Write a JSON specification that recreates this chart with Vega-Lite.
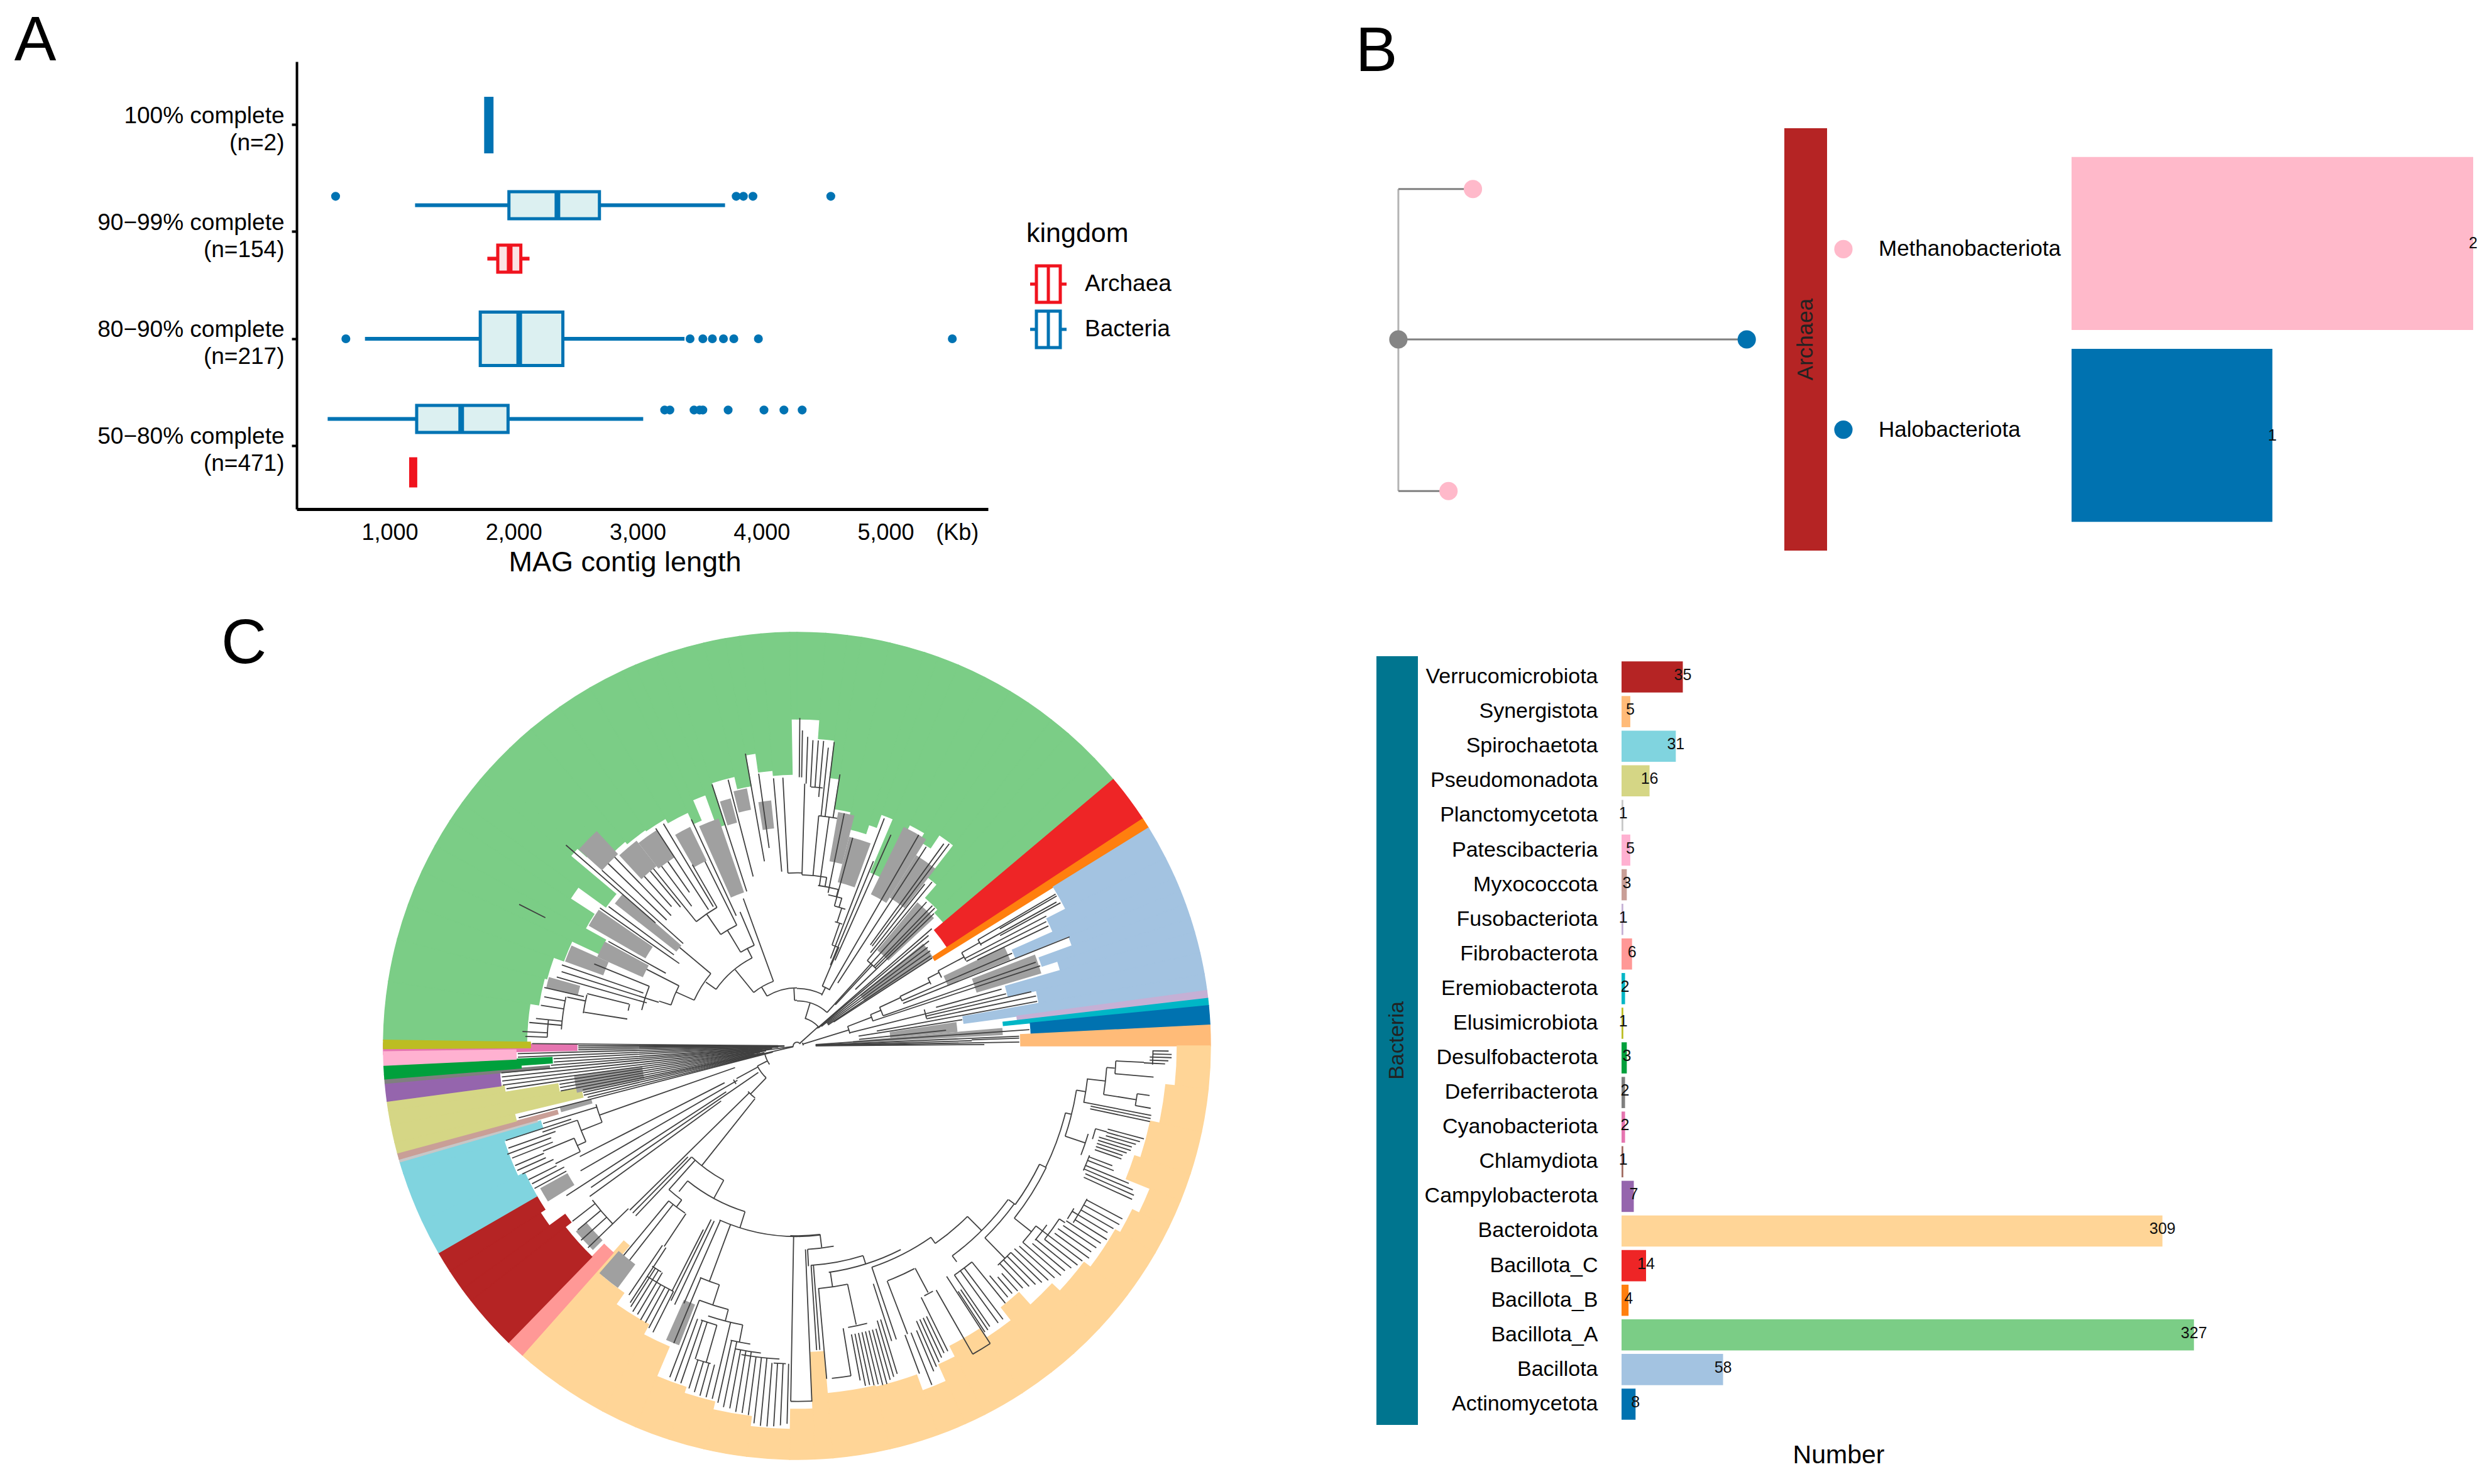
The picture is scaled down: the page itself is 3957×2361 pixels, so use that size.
{"$schema":"https://vega.github.io/schema/vega-lite/v6.json","width":3957,"height":2361,"autosize":{"type":"fit","contains":"padding"},"padding":0,"background":"white","config":{"view":{"stroke":null},"font":"Liberation Sans","axis":{"grid":false}},
"datasets":{
"boxes":[
{"group":"100% complete\n(n=2)","kingdom":"Bacteria","dodge":"center","span":"solo","low":1775,"q1":1775,"median":1800,"q3":1825,"high":1825},
{"group":"90−99% complete\n(n=154)","kingdom":"Bacteria","dodge":"upper","span":"paired","low":1205,"q1":1962,"median":2353,"q3":2692,"high":3705},
{"group":"90−99% complete\n(n=154)","kingdom":"Archaea","dodge":"lower","span":"paired","low":1788,"q1":1872,"median":1968,"q3":2058,"high":2128},
{"group":"80−90% complete\n(n=217)","kingdom":"Bacteria","dodge":"center","span":"solo","low":801,"q1":1731,"median":2045,"q3":2397,"high":3378},
{"group":"50−80% complete\n(n=471)","kingdom":"Bacteria","dodge":"upper","span":"paired","low":500,"q1":1218,"median":1577,"q3":1955,"high":3045},
{"group":"50−80% complete\n(n=471)","kingdom":"Archaea","dodge":"lower","span":"paired","low":1170,"q1":1170,"median":1190,"q3":1210,"high":1210}],
"outliers":[
{"group":"90−99% complete\n(n=154)","dodge":"upper","kb":564},{"group":"90−99% complete\n(n=154)","dodge":"upper","kb":3795},{"group":"90−99% complete\n(n=154)","dodge":"upper","kb":3853},{"group":"90−99% complete\n(n=154)","dodge":"upper","kb":3930},{"group":"90−99% complete\n(n=154)","dodge":"upper","kb":4558},
{"group":"80−90% complete\n(n=217)","dodge":"center","kb":647},{"group":"80−90% complete\n(n=217)","dodge":"center","kb":3423},{"group":"80−90% complete\n(n=217)","dodge":"center","kb":3526},{"group":"80−90% complete\n(n=217)","dodge":"center","kb":3603},{"group":"80−90% complete\n(n=217)","dodge":"center","kb":3692},{"group":"80−90% complete\n(n=217)","dodge":"center","kb":3776},{"group":"80−90% complete\n(n=217)","dodge":"center","kb":3974},{"group":"80−90% complete\n(n=217)","dodge":"center","kb":5538},
{"group":"50−80% complete\n(n=471)","dodge":"upper","kb":3218},{"group":"50−80% complete\n(n=471)","dodge":"upper","kb":3260},{"group":"50−80% complete\n(n=471)","dodge":"upper","kb":3455},{"group":"50−80% complete\n(n=471)","dodge":"upper","kb":3500},{"group":"50−80% complete\n(n=471)","dodge":"upper","kb":3526},{"group":"50−80% complete\n(n=471)","dodge":"upper","kb":3730},{"group":"50−80% complete\n(n=471)","dodge":"upper","kb":4019},{"group":"50−80% complete\n(n=471)","dodge":"upper","kb":4180},{"group":"50−80% complete\n(n=471)","dodge":"upper","kb":4327}],
"kingdoms":[{"kingdom":"Archaea"},{"kingdom":"Bacteria"}],
"archaea":[{"phylum":"Methanobacteriota","number":2},{"phylum":"Halobacteriota","number":1}],
"bacteria":[{"phylum":"Verrucomicrobiota","number":35},{"phylum":"Synergistota","number":5},{"phylum":"Spirochaetota","number":31},{"phylum":"Pseudomonadota","number":16},{"phylum":"Planctomycetota","number":1},{"phylum":"Patescibacteria","number":5},{"phylum":"Myxococcota","number":3},{"phylum":"Fusobacteriota","number":1},{"phylum":"Fibrobacterota","number":6},{"phylum":"Eremiobacterota","number":2},{"phylum":"Elusimicrobiota","number":1},{"phylum":"Desulfobacterota","number":3},{"phylum":"Deferribacterota","number":2},{"phylum":"Cyanobacteriota","number":2},{"phylum":"Chlamydiota","number":1},{"phylum":"Campylobacterota","number":7},{"phylum":"Bacteroidota","number":309},{"phylum":"Bacillota_C","number":14},{"phylum":"Bacillota_B","number":4},{"phylum":"Bacillota_A","number":327},{"phylum":"Bacillota","number":58},{"phylum":"Actinomycetota","number":8}],
"treeB":[{"node":"root","d":35,"p":337,"type":"internal"},{"node":"top","d":154,"p":97,"type":"Methanobacteriota"},{"node":"mid","d":591,"p":337,"type":"Halobacteriota"},{"node":"bottom","d":115,"p":579,"type":"Methanobacteriota"}],
"edgesB":[{"d":35,"d2":35,"p":97,"p2":579,"edge":"stem"},{"d":35,"d2":154,"p":97,"p2":97,"edge":"tip"},{"d":35,"d2":591,"p":337,"p2":337,"edge":"tip"},{"d":35,"d2":115,"p":579,"p2":579,"edge":"tip"}],
"wedges":[
{"phylum":"Bacillota_A","a0":270.8,"a1":279,"r0":430},{"phylum":"Bacillota_A","a0":279,"a1":285,"r0":416},{"phylum":"Bacillota_A","a0":285,"a1":290,"r0":412},{"phylum":"Bacillota_A","a0":290,"a1":295,"r0":395},{"phylum":"Bacillota_A","a0":295,"a1":299,"r0":348},{"phylum":"Bacillota_A","a0":299,"a1":303,"r0":385},{"phylum":"Bacillota_A","a0":303,"a1":306,"r0":430},{"phylum":"Bacillota_A","a0":306,"a1":310,"r0":376},{"phylum":"Bacillota_A","a0":310,"a1":312,"r0":470},{"phylum":"Bacillota_A","a0":312,"a1":316,"r0":450},{"phylum":"Bacillota_A","a0":316,"a1":320,"r0":425},{"phylum":"Bacillota_A","a0":320,"a1":325,"r0":420},{"phylum":"Bacillota_A","a0":325,"a1":330,"r0":418},{"phylum":"Bacillota_A","a0":330,"a1":335,"r0":410},{"phylum":"Bacillota_A","a0":335,"a1":337,"r0":390},{"phylum":"Bacillota_A","a0":337,"a1":340,"r0":425},{"phylum":"Bacillota_A","a0":340,"a1":342,"r0":370},{"phylum":"Bacillota_A","a0":342,"a1":347,"r0":440},{"phylum":"Bacillota_A","a0":347,"a1":350,"r0":420},{"phylum":"Bacillota_A","a0":350,"a1":352,"r0":470},{"phylum":"Bacillota_A","a0":352,"a1":355,"r0":440},{"phylum":"Bacillota_A","a0":355,"a1":359,"r0":432},{"phylum":"Bacillota_A","a0":359,"a1":360,"r0":520},{"phylum":"Bacillota_A","a0":0,"a1":4,"r0":520},{"phylum":"Bacillota_A","a0":4,"a1":7,"r0":490},{"phylum":"Bacillota_A","a0":7,"a1":9,"r0":430},{"phylum":"Bacillota_A","a0":9,"a1":13,"r0":382},{"phylum":"Bacillota_A","a0":13,"a1":18,"r0":355},{"phylum":"Bacillota_A","a0":18,"a1":20,"r0":370},{"phylum":"Bacillota_A","a0":20,"a1":23,"r0":392},{"phylum":"Bacillota_A","a0":23,"a1":27,"r0":300},{"phylum":"Bacillota_A","a0":27,"a1":31,"r0":395},{"phylum":"Bacillota_A","a0":31,"a1":34,"r0":380},{"phylum":"Bacillota_A","a0":34,"a1":38,"r0":405},{"phylum":"Bacillota_A","a0":38,"a1":41,"r0":340},{"phylum":"Bacillota_A","a0":41,"a1":46,"r0":312},{"phylum":"Bacillota_A","a0":46,"a1":49.9,"r0":305},
{"phylum":"Bacillota_C","a0":49.9,"a1":56.7,"r0":286},{"phylum":"Bacillota_B","a0":56.7,"a1":58.2,"r0":258},
{"phylum":"Bacillota","a0":58.2,"a1":63,"r0":480},{"phylum":"Bacillota","a0":63,"a1":66,"r0":446},{"phylum":"Bacillota","a0":66,"a1":68,"r0":375},{"phylum":"Bacillota","a0":68,"a1":70,"r0":466},{"phylum":"Bacillota","a0":70,"a1":72,"r0":410},{"phylum":"Bacillota","a0":72,"a1":74,"r0":436},{"phylum":"Bacillota","a0":74,"a1":77,"r0":345},{"phylum":"Bacillota","a0":77,"a1":80,"r0":391},{"phylum":"Bacillota","a0":80,"a1":82.3,"r0":268},
{"phylum":"Fusobacteriota","a0":82.3,"a1":83.4,"r0":353},{"phylum":"Eremiobacterota","a0":83.4,"a1":84.4,"r0":330},{"phylum":"Actinomycetota","a0":84.4,"a1":87.1,"r0":373},{"phylum":"Synergistota","a0":87.1,"a1":90,"r0":356},
{"phylum":"Bacteroidota","a0":90,"a1":96,"r0":605},{"phylum":"Bacteroidota","a0":96,"a1":102,"r0":590},{"phylum":"Bacteroidota","a0":102,"a1":108,"r0":575},{"phylum":"Bacteroidota","a0":108,"a1":112,"r0":565},{"phylum":"Bacteroidota","a0":112,"a1":116,"r0":606},{"phylum":"Bacteroidota","a0":116,"a1":120,"r0":594},{"phylum":"Bacteroidota","a0":120,"a1":127,"r0":585},{"phylum":"Bacteroidota","a0":127,"a1":133,"r0":572},{"phylum":"Bacteroidota","a0":133,"a1":138,"r0":555},{"phylum":"Bacteroidota","a0":138,"a1":142,"r0":528},{"phylum":"Bacteroidota","a0":142,"a1":147,"r0":554},{"phylum":"Bacteroidota","a0":147,"a1":153,"r0":536},{"phylum":"Bacteroidota","a0":153,"a1":156,"r0":555},{"phylum":"Bacteroidota","a0":156,"a1":160,"r0":584},{"phylum":"Bacteroidota","a0":160,"a1":167,"r0":557},{"phylum":"Bacteroidota","a0":167,"a1":175,"r0":555},{"phylum":"Bacteroidota","a0":175,"a1":177.5,"r0":488},{"phylum":"Bacteroidota","a0":177.5,"a1":181,"r0":578},{"phylum":"Bacteroidota","a0":181,"a1":187,"r0":610},{"phylum":"Bacteroidota","a0":187,"a1":193,"r0":594},{"phylum":"Bacteroidota","a0":193,"a1":198,"r0":581},{"phylum":"Bacteroidota","a0":198,"a1":203,"r0":571},{"phylum":"Bacteroidota","a0":203,"a1":208,"r0":520},{"phylum":"Bacteroidota","a0":208,"a1":215,"r0":502},{"phylum":"Bacteroidota","a0":215,"a1":220,"r0":480},{"phylum":"Bacteroidota","a0":220,"a1":221.6,"r0":415},
{"phylum":"Fibrobacterota","a0":221.6,"a1":224.2,"r0":440},
{"phylum":"Verrucomicrobiota","a0":224.2,"a1":232,"r0":468},{"phylum":"Verrucomicrobiota","a0":232,"a1":234,"r0":456},{"phylum":"Verrucomicrobiota","a0":234,"a1":237,"r0":487},{"phylum":"Verrucomicrobiota","a0":237,"a1":240,"r0":478},
{"phylum":"Spirochaetota","a0":240,"a1":245,"r0":478},{"phylum":"Spirochaetota","a0":245,"a1":252,"r0":490},{"phylum":"Spirochaetota","a0":252,"a1":253.7,"r0":425},
{"phylum":"Planctomycetota","a0":253.7,"a1":254.1,"r0":430},{"phylum":"Myxococcota","a0":254.1,"a1":255,"r0":395},
{"phylum":"Pseudomonadota","a0":255,"a1":256.5,"r0":462},{"phylum":"Pseudomonadota","a0":256.5,"a1":259,"r0":350},{"phylum":"Pseudomonadota","a0":259,"a1":261,"r0":385},{"phylum":"Pseudomonadota","a0":261,"a1":262.3,"r0":470},
{"phylum":"Campylobacterota","a0":262.3,"a1":264.8,"r0":475},{"phylum":"Deferribacterota","a0":264.8,"a1":265.4,"r0":395},{"phylum":"Desulfobacterota","a0":265.4,"a1":266,"r0":440},{"phylum":"Desulfobacterota","a0":266,"a1":267.3,"r0":390},
{"phylum":"Cyanobacteriota","a0":268.8,"a1":270.4,"r0":350},{"phylum":"Patescibacteria","a0":267.3,"a1":269.2,"r0":447},{"phylum":"Elusimicrobiota","a0":269.6,"a1":270.8,"r0":424}],
"hatch":[
{"a0":312,"a1":317,"r0":420,"r1":470},{"a0":317,"a1":322,"r0":365,"r1":417},{"a0":322,"a1":327,"r0":360,"r1":412},{"a0":330,"a1":334,"r0":330,"r1":390},{"a0":336,"a1":341,"r0":260,"r1":385},{"a0":342.5,"a1":345,"r0":370,"r1":410},{"a0":346,"a1":349,"r0":385,"r1":420},{"a0":351,"a1":354,"r0":350,"r1":395},{"a0":308,"a1":311,"r0":245,"r1":370},{"a0":300,"a1":304.5,"r0":280,"r1":385},{"a0":290,"a1":294,"r0":330,"r1":395},{"a0":294,"a1":298.5,"r0":270,"r1":350},{"a0":283,"a1":285.5,"r0":360,"r1":412},{"a0":10,"a1":14,"r0":300,"r1":380},{"a0":14,"a1":20,"r0":270,"r1":345},{"a0":26,"a1":32,"r0":270,"r1":390},{"a0":32,"a1":38,"r0":280,"r1":360},{"a0":40,"a1":47,"r0":200,"r1":300},{"a0":51,"a1":57,"r0":130,"r1":260},{"a0":64.5,"a1":68,"r0":260,"r1":368},{"a0":69,"a1":73.5,"r0":300,"r1":408},{"a0":81.5,"a1":85,"r0":150,"r1":258},{"a0":85,"a1":87,"r0":90,"r1":330},{"a0":258,"a1":262.5,"r0":250,"r1":360},{"a0":254.3,"a1":255.5,"r0":340,"r1":392},{"a0":238,"a1":241,"r0":420,"r1":470},{"a0":225,"a1":230,"r0":440,"r1":462},{"a0":216.5,"a1":221,"r0":435,"r1":482},{"a0":201.5,"a1":204,"r0":445,"r1":515}],
"branches":[
{"a0":60,"a1":85,"r0":10,"r1":10},{"a0":262,"a1":360,"r0":6,"r1":6},{"a0":0,"a1":60,"r0":6,"r1":6},{"a0":48,"a1":48,"r0":6,"r1":46},{"a0":16,"a1":48,"r0":46,"r1":46},{"a0":17,"a1":17,"r0":46,"r1":72},{"a0":357,"a1":360,"r0":73,"r1":73},{"a0":0,"a1":42,"r0":72,"r1":72},{"a0":357,"a1":357,"r0":73,"r1":92},{"a0":329,"a1":360,"r0":93,"r1":93},{"a0":0,"a1":26,"r0":92,"r1":92},{"a0":329,"a1":329,"r0":93,"r1":110},{"a0":321,"a1":340,"r0":110,"r1":110},{"a0":340,"a1":340,"r0":110,"r1":251},{"a0":321,"a1":321,"r0":110,"r1":157},{"a0":305,"a1":333,"r0":158,"r1":158},{"a0":333,"a1":333,"r0":158,"r1":175},{"a0":329,"a1":337,"r0":175,"r1":175},{"a0":337,"a1":337,"r0":175,"r1":233},{"a0":329,"a1":329,"r0":175,"r1":216},{"a0":325.6,"a1":333.5,"r0":216,"r1":216},{"a0":333.5,"a1":333.5,"r0":216,"r1":330},{"a0":325.6,"a1":325.6,"r0":216,"r1":255},{"a0":321,"a1":330,"r0":256,"r1":256},{"a0":321,"a1":321,"r0":256,"r1":365},{"a0":330,"a1":330,"r0":256,"r1":335},{"a0":305,"a1":305,"r0":158,"r1":178},{"a0":294,"a1":310,"r0":180,"r1":180},{"a0":310,"a1":310,"r0":180,"r1":245},{"a0":294,"a1":294,"r0":180,"r1":212},{"a0":288,"a1":297,"r0":212,"r1":212},{"a0":288,"a1":288,"r0":212,"r1":232},{"a0":283,"a1":292,"r0":255,"r1":255},{"a0":297,"a1":297,"r0":212,"r1":270},{"a0":284,"a1":284,"r0":277,"r1":346},{"a0":281.8,"a1":284,"r0":276,"r1":276},{"a0":279,"a1":279,"r0":275,"r1":345},{"a0":278.7,"a1":283.7,"r0":346,"r1":346},{"a0":274,"a1":282,"r0":378,"r1":378},{"a0":282,"a1":282,"r0":346,"r1":376},{"a0":279,"a1":279,"r0":378,"r1":415},{"a0":281,"a1":281,"r0":378,"r1":412},{"a0":283,"a1":283,"r0":350,"r1":415},{"a0":276,"a1":276,"r0":378,"r1":420},{"a0":275,"a1":275,"r0":378,"r1":430},{"a0":273,"a1":273,"r0":400,"r1":440},{"a0":272,"a1":272,"r0":400,"r1":435},{"a0":272,"a1":276,"r0":400,"r1":400},{"a0":286,"a1":286,"r0":250,"r1":400},{"a0":287.5,"a1":287.5,"r0":232,"r1":395},{"a0":289,"a1":289,"r0":260,"r1":398},{"a0":292,"a1":292,"r0":255,"r1":350},{"a0":299,"a1":299,"r0":240,"r1":345},{"a0":305,"a1":305,"r0":230,"r1":385},{"a0":306.5,"a1":306.5,"r0":245,"r1":375},{"a0":311,"a1":311,"r0":300,"r1":490},{"a0":312,"a1":312,"r0":245,"r1":420},{"a0":314,"a1":314,"r0":290,"r1":420},{"a0":316,"a1":316,"r0":290,"r1":420},{"a0":318,"a1":318,"r0":300,"r1":365},{"a0":320,"a1":320,"r0":290,"r1":365},{"a0":323,"a1":323,"r0":280,"r1":360},{"a0":325,"a1":325,"r0":300,"r1":360},{"a0":327,"a1":327,"r0":260,"r1":415},{"a0":329,"a1":329,"r0":260,"r1":415},{"a0":335,"a1":335,"r0":230,"r1":400},{"a0":342,"a1":342,"r0":260,"r1":440},{"a0":345.5,"a1":345.5,"r0":280,"r1":440},{"a0":350,"a1":350,"r0":300,"r1":475},{"a0":352,"a1":352,"r0":320,"r1":440},{"a0":355,"a1":355,"r0":280,"r1":430},{"a0":357,"a1":357,"r0":277,"r1":430},{"a0":297,"a1":297,"r0":452,"r1":499},
{"a0":26,"a1":26,"r0":90,"r1":104},{"a0":23,"a1":30.6,"r0":104,"r1":104},{"a0":23,"a1":23,"r0":104,"r1":171},{"a0":19.2,"a1":23.3,"r0":171,"r1":171},{"a0":19.2,"a1":19.2,"r0":171,"r1":208},{"a0":17,"a1":20.4,"r0":208,"r1":208},{"a0":18,"a1":18,"r0":208,"r1":232},{"a0":15,"a1":19.5,"r0":232,"r1":232},{"a0":16.9,"a1":16.9,"r0":232,"r1":247},{"a0":11.7,"a1":17,"r0":247,"r1":247},{"a0":14.8,"a1":14.8,"r0":247,"r1":259},{"a0":7.5,"a1":14.8,"r0":259,"r1":259},{"a0":10,"a1":10,"r0":259,"r1":274},{"a0":1.7,"a1":10,"r0":274,"r1":274},{"a0":357,"a1":360,"r0":277,"r1":277},{"a0":0,"a1":1.7,"r0":277,"r1":277},{"a0":1.7,"a1":1.7,"r0":274,"r1":420},{"a0":5.4,"a1":5.4,"r0":274,"r1":370},{"a0":5.4,"a1":10,"r0":370,"r1":370},{"a0":8,"a1":8,"r0":259,"r1":370},{"a0":3.1,"a1":5.7,"r0":415,"r1":415},{"a0":0.5,"a1":0.5,"r0":430,"r1":525},{"a0":1,"a1":1,"r0":430,"r1":505},{"a0":2,"a1":2,"r0":420,"r1":495},{"a0":3,"a1":3,"r0":415,"r1":490},{"a0":4,"a1":4,"r0":415,"r1":490},{"a0":5,"a1":5,"r0":400,"r1":490},{"a0":6,"a1":6,"r0":370,"r1":480},{"a0":7,"a1":7,"r0":370,"r1":490},{"a0":9,"a1":9,"r0":370,"r1":440},{"a0":11.5,"a1":11.5,"r0":250,"r1":380},{"a0":15,"a1":15,"r0":232,"r1":345},{"a0":21,"a1":21,"r0":150,"r1":390},{"a0":22.5,"a1":22.5,"r0":140,"r1":320},{"a0":24,"a1":24,"r0":150,"r1":370},{"a0":30,"a1":30,"r0":104,"r1":390},{"a0":33,"a1":33,"r0":120,"r1":380},{"a0":39.5,"a1":45.7,"r0":177,"r1":177},{"a0":43,"a1":43,"r0":90,"r1":177},{"a0":39.5,"a1":39.5,"r0":177,"r1":340},{"a0":38.3,"a1":38.3,"r0":190,"r1":330},{"a0":37,"a1":37,"r0":200,"r1":405},{"a0":36,"a1":36,"r0":200,"r1":400},{"a0":44,"a1":44,"r0":177,"r1":312},{"a0":45,"a1":45,"r0":177,"r1":312},{"a0":46,"a1":46,"r0":130,"r1":305},{"a0":42,"a1":42,"r0":72,"r1":310},
{"a0":49,"a1":49,"r0":43,"r1":286},{"a0":50,"a1":50,"r0":45,"r1":275},{"a0":51.5,"a1":51.5,"r0":50,"r1":270},{"a0":53,"a1":53,"r0":60,"r1":262},{"a0":54.5,"a1":54.5,"r0":60,"r1":262},{"a0":56,"a1":56,"r0":60,"r1":258},{"a0":57,"a1":57,"r0":70,"r1":258},{"a0":73,"a1":73,"r0":10,"r1":87},{"a0":69,"a1":77,"r0":87,"r1":87},{"a0":69,"a1":69,"r0":87,"r1":128},{"a0":67,"a1":72,"r0":128,"r1":128},{"a0":67,"a1":67,"r0":128,"r1":146},{"a0":65,"a1":70.7,"r0":146,"r1":146},{"a0":65,"a1":65,"r0":146,"r1":183},{"a0":64.4,"a1":66.8,"r0":183,"r1":183},{"a0":64.4,"a1":64.4,"r0":183,"r1":236},{"a0":62.7,"a1":65.3,"r0":236,"r1":236},{"a0":62.7,"a1":62.7,"r0":236,"r1":256},{"a0":62,"a1":64.7,"r0":256,"r1":256},{"a0":62,"a1":62,"r0":256,"r1":303},{"a0":60.5,"a1":63.2,"r0":303,"r1":303},{"a0":60.5,"a1":60.5,"r0":303,"r1":336},{"a0":59.6,"a1":61.4,"r0":336,"r1":336},{"a0":59.6,"a1":59.6,"r0":336,"r1":480},{"a0":61,"a1":61,"r0":336,"r1":475},{"a0":60,"a1":60,"r0":375,"r1":480},{"a0":61.5,"a1":61.5,"r0":370,"r1":480},{"a0":62.5,"a1":62.5,"r0":303,"r1":450},{"a0":63.5,"a1":63.5,"r0":303,"r1":446},{"a0":64.5,"a1":64.5,"r0":320,"r1":446},{"a0":66.7,"a1":66.7,"r0":183,"r1":375},{"a0":68.2,"a1":68.2,"r0":183,"r1":470},{"a0":70.7,"a1":70.7,"r0":146,"r1":405},{"a0":71.8,"a1":71.8,"r0":128,"r1":410},{"a0":74.5,"a1":74.5,"r0":231,"r1":340},{"a0":74,"a1":78,"r0":212,"r1":212},{"a0":76,"a1":76,"r0":87,"r1":345},{"a0":77,"a1":77,"r0":212,"r1":385},{"a0":78.2,"a1":78.2,"r0":212,"r1":391},{"a0":79.5,"a1":79.5,"r0":130,"r1":391},{"a0":81,"a1":81,"r0":100,"r1":268},{"a0":84,"a1":84,"r0":100,"r1":240},{"a0":86,"a1":86,"r0":30,"r1":373},{"a0":87.5,"a1":87.5,"r0":30,"r1":356},{"a0":88,"a1":88,"r0":280,"r1":356},{"a0":88.3,"a1":88.3,"r0":30,"r1":280},{"a0":89,"a1":89,"r0":30,"r1":356},{"a0":89.6,"a1":89.6,"r0":30,"r1":300},
{"a0":173,"a1":182,"r0":304,"r1":304},{"a0":173,"a1":173,"r0":304,"r1":325},{"a0":169.6,"a1":177,"r0":326,"r1":326},{"a0":177,"a1":177,"r0":326,"r1":353},{"a0":162.5,"a1":176.4,"r0":352,"r1":352},{"a0":162.5,"a1":162.5,"r0":352,"r1":366},{"a0":153,"a1":172,"r0":366,"r1":366},{"a0":145,"a1":161.3,"r0":374,"r1":374},{"a0":135,"a1":145,"r0":386,"r1":386},{"a0":145,"a1":145,"r0":374,"r1":386},{"a0":135,"a1":135,"r0":386,"r1":418},{"a0":126,"a1":143.5,"r0":418,"r1":418},{"a0":126,"a1":135.6,"r0":430,"r1":430},{"a0":116,"a1":126,"r0":432,"r1":432},{"a0":126,"a1":126,"r0":419,"r1":432},{"a0":116,"a1":128.4,"r0":444,"r1":444},{"a0":116,"a1":116,"r0":432,"r1":444},{"a0":104,"a1":116,"r0":443,"r1":443},{"a0":104,"a1":104,"r0":443,"r1":452},{"a0":99,"a1":108.6,"r0":453,"r1":453},{"a0":99,"a1":99,"r0":453,"r1":468},{"a0":96.4,"a1":101.2,"r0":468,"r1":468},{"a0":96.5,"a1":96.5,"r0":468,"r1":497},{"a0":94,"a1":99,"r0":497,"r1":497},{"a0":94,"a1":94,"r0":497,"r1":510},{"a0":92.7,"a1":95,"r0":511,"r1":511},{"a0":92.7,"a1":92.7,"r0":511,"r1":556},{"a0":95,"a1":95,"r0":511,"r1":573},{"a0":90.7,"a1":93,"r0":570,"r1":570},{"a0":90.8,"a1":90.8,"r0":570,"r1":595},{"a0":91.3,"a1":91.3,"r0":570,"r1":600},{"a0":91.8,"a1":91.8,"r0":565,"r1":600},{"a0":92.3,"a1":92.3,"r0":565,"r1":595},{"a0":92.8,"a1":92.8,"r0":556,"r1":590},{"a0":99,"a1":99,"r0":497,"r1":550},{"a0":98,"a1":100,"r0":550,"r1":550},{"a0":98,"a1":98,"r0":550,"r1":570},{"a0":100,"a1":100,"r0":550,"r1":575},{"a0":101.1,"a1":101.1,"r0":468,"r1":578},{"a0":101.6,"a1":101.6,"r0":480,"r1":578},{"a0":102.1,"a1":102.1,"r0":480,"r1":578},{"a0":108.6,"a1":108.6,"r0":453,"r1":487},{"a0":106.8,"a1":111,"r0":487,"r1":487},{"a0":105.5,"a1":107.5,"r0":496,"r1":496},{"a0":105.5,"a1":105.5,"r0":496,"r1":515},{"a0":105,"a1":105,"r0":515,"r1":575},{"a0":105.6,"a1":105.6,"r0":515,"r1":570},{"a0":106.2,"a1":106.2,"r0":515,"r1":565},{"a0":106.8,"a1":106.8,"r0":505,"r1":560},{"a0":107.4,"a1":107.4,"r0":505,"r1":560},{"a0":108,"a1":108,"r0":505,"r1":555},{"a0":108.6,"a1":108.6,"r0":505,"r1":550},{"a0":109.2,"a1":109.2,"r0":505,"r1":550},{"a0":110.5,"a1":113.5,"r0":500,"r1":500},{"a0":110.8,"a1":110.8,"r0":500,"r1":540},{"a0":111.5,"a1":111.5,"r0":500,"r1":545},{"a0":112.5,"a1":112.5,"r0":500,"r1":575},{"a0":113.2,"a1":113.2,"r0":500,"r1":585},{"a0":113.9,"a1":113.9,"r0":505,"r1":590},{"a0":114.6,"a1":114.6,"r0":505,"r1":590},
{"a0":128.4,"a1":128.4,"r0":444,"r1":479},{"a0":127,"a1":131,"r0":479,"r1":479},{"a0":125.6,"a1":129.2,"r0":492,"r1":492},{"a0":123.4,"a1":128,"r0":503,"r1":503},{"a0":120.4,"a1":122.6,"r0":514,"r1":514},{"a0":117.8,"a1":122.6,"r0":525,"r1":525},{"a0":127,"a1":127,"r0":479,"r1":503},{"a0":123.4,"a1":123.4,"r0":503,"r1":514},{"a0":121,"a1":121,"r0":514,"r1":525},{"a0":118,"a1":118,"r0":525,"r1":590},{"a0":119,"a1":119,"r0":525,"r1":590},{"a0":120,"a1":120,"r0":525,"r1":585},{"a0":121,"a1":121,"r0":525,"r1":580},{"a0":122,"a1":122,"r0":525,"r1":585},{"a0":123,"a1":123,"r0":514,"r1":580},{"a0":124,"a1":124,"r0":514,"r1":578},{"a0":125,"a1":125,"r0":510,"r1":575},{"a0":126,"a1":126,"r0":510,"r1":578},{"a0":127,"a1":127,"r0":503,"r1":572},{"a0":128,"a1":128,"r0":503,"r1":570},{"a0":129,"a1":129,"r0":492,"r1":565},{"a0":130,"a1":130,"r0":492,"r1":560},{"a0":131,"a1":131,"r0":479,"r1":560},{"a0":132,"a1":132,"r0":479,"r1":555},
{"a0":134,"a1":137.5,"r0":476,"r1":476},{"a0":135.6,"a1":135.6,"r0":430,"r1":476},{"a0":133,"a1":133,"r0":476,"r1":550},{"a0":134,"a1":134,"r0":476,"r1":545},{"a0":135,"a1":135,"r0":476,"r1":540},{"a0":136,"a1":136,"r0":476,"r1":535},{"a0":137,"a1":137,"r0":476,"r1":530},{"a0":138,"a1":138,"r0":490,"r1":528},{"a0":139,"a1":139,"r0":490,"r1":525},{"a0":140,"a1":140,"r0":480,"r1":525},{"a0":141,"a1":141,"r0":445,"r1":530},{"a0":143.5,"a1":143.5,"r0":418,"r1":430},{"a0":141,"a1":145.5,"r0":445,"r1":445},{"a0":143,"a1":143,"r0":445,"r1":548},{"a0":144,"a1":144,"r0":445,"r1":548},{"a0":145.5,"a1":145.5,"r0":445,"r1":545},{"a0":146.1,"a1":146.1,"r0":470,"r1":548},{"a0":146.7,"a1":146.7,"r0":470,"r1":548},{"a0":147,"a1":150.3,"r0":568,"r1":568},{"a0":150.3,"a1":150.3,"r0":450,"r1":568},{"a0":147,"a1":147,"r0":440,"r1":568},{"a0":152.2,"a1":158.9,"r0":403,"r1":403},{"a0":152,"a1":152,"r0":403,"r1":447},{"a0":151,"a1":153,"r0":449,"r1":449},{"a0":159,"a1":159,"r0":403,"r1":494},{"a0":153.7,"a1":153.7,"r0":449,"r1":545},{"a0":154.4,"a1":154.4,"r0":480,"r1":545},{"a0":155.1,"a1":155.1,"r0":480,"r1":550},{"a0":155.8,"a1":155.8,"r0":480,"r1":555},{"a0":156.5,"a1":156.5,"r0":480,"r1":560},{"a0":157.2,"a1":157.2,"r0":494,"r1":565},{"a0":158.3,"a1":158.3,"r0":494,"r1":584},{"a0":159.5,"a1":159.5,"r0":494,"r1":560},{"a0":161.3,"a1":161.3,"r0":374,"r1":496},{"a0":162.2,"a1":162.2,"r0":400,"r1":496},{"a0":168,"a1":175,"r0":390,"r1":390},{"a0":171.6,"a1":171.6,"r0":366,"r1":390},{"a0":168,"a1":168,"r0":390,"r1":456},{"a0":165.8,"a1":169.7,"r0":458,"r1":458},{"a0":174.9,"a1":174.9,"r0":390,"r1":535},{"a0":170.7,"a1":174,"r0":535,"r1":535},{"a0":170.7,"a1":170.7,"r0":458,"r1":535},{"a0":176.3,"a1":176.3,"r0":352,"r1":488},{"a0":175.7,"a1":175.7,"r0":352,"r1":488},{"a0":163,"a1":163,"r0":458,"r1":549},{"a0":163.7,"a1":163.7,"r0":458,"r1":552},{"a0":164.4,"a1":164.4,"r0":470,"r1":555},{"a0":165.1,"a1":165.1,"r0":470,"r1":560},{"a0":165.8,"a1":165.8,"r0":470,"r1":560},{"a0":166.5,"a1":166.5,"r0":470,"r1":557},{"a0":167.2,"a1":167.2,"r0":470,"r1":557},{"a0":167.9,"a1":167.9,"r0":470,"r1":555},{"a0":168.6,"a1":168.6,"r0":470,"r1":555},{"a0":169.3,"a1":169.3,"r0":470,"r1":545},{"a0":177.6,"a1":177.6,"r0":326,"r1":570},{"a0":177.6,"a1":181,"r0":569,"r1":569},{"a0":181,"a1":181,"r0":304,"r1":569},
{"a0":173,"a1":204,"r0":305,"r1":305},{"a0":197.4,"a1":219,"r0":278,"r1":278},{"a0":197.4,"a1":197.4,"r0":278,"r1":305},{"a0":208.6,"a1":208.6,"r0":245,"r1":278},{"a0":208.6,"a1":223.4,"r0":245,"r1":245},{"a0":218.5,"a1":218.5,"r0":108,"r1":245},{"a0":218.8,"a1":227,"r0":107,"r1":107},{"a0":224,"a1":243,"r0":71,"r1":71},{"a0":224,"a1":224,"r0":71,"r1":107},{"a0":236,"a1":257,"r0":53,"r1":53},{"a0":243,"a1":243,"r0":53,"r1":71},{"a0":257,"a1":257,"r0":6,"r1":53},{"a0":241.6,"a1":241.6,"r0":71,"r1":110},{"a0":240,"a1":240,"r0":110,"r1":400},{"a0":237,"a1":237,"r0":135,"r1":440},{"a0":238,"a1":242,"r0":115,"r1":115},{"a0":234,"a1":234,"r0":150,"r1":410},{"a0":235.5,"a1":235.5,"r0":75,"r1":400},{"a0":225.5,"a1":225.5,"r0":107,"r1":375},{"a0":224.5,"a1":224.5,"r0":249,"r1":375},{"a0":223.5,"a1":223.5,"r0":245,"r1":375},{"a0":216.8,"a1":221.7,"r0":308,"r1":308},{"a0":213.8,"a1":219.6,"r0":322,"r1":322},{"a0":216.8,"a1":216.8,"r0":308,"r1":322},{"a0":221.7,"a1":221.7,"r0":245,"r1":308},{"a0":213.5,"a1":213.5,"r0":322,"r1":385},{"a0":219,"a1":219,"r0":278,"r1":300},{"a0":219.6,"a1":219.6,"r0":322,"r1":435},{"a0":218,"a1":218,"r0":322,"r1":435},{"a0":211,"a1":213.3,"r0":422,"r1":422},{"a0":206.7,"a1":206.7,"r0":440,"r1":513},{"a0":207.7,"a1":207.7,"r0":440,"r1":510},{"a0":208.7,"a1":208.7,"r0":440,"r1":505},{"a0":209.7,"a1":209.7,"r0":440,"r1":505},{"a0":210.7,"a1":210.7,"r0":422,"r1":500},{"a0":211.7,"a1":211.7,"r0":422,"r1":500},{"a0":212.5,"a1":212.5,"r0":422,"r1":495},{"a0":213,"a1":213,"r0":385,"r1":490},{"a0":214,"a1":214,"r0":385,"r1":481},{"a0":206.7,"a1":213,"r0":440,"r1":440},{"a0":203.7,"a1":203.7,"r0":305,"r1":450},{"a0":205.3,"a1":205.3,"r0":310,"r1":458},{"a0":206.3,"a1":206.3,"r0":310,"r1":455},{"a0":207,"a1":207,"r0":330,"r1":440},{"a0":200.4,"a1":200.4,"r0":305,"r1":402},{"a0":198,"a1":202.7,"r0":402,"r1":402},{"a0":194.6,"a1":201,"r0":436,"r1":436},{"a0":198,"a1":198,"r0":402,"r1":436},{"a0":202.5,"a1":202.5,"r0":402,"r1":515},{"a0":201,"a1":201,"r0":436,"r1":568},{"a0":191,"a1":198.2,"r0":455,"r1":455},{"a0":194.6,"a1":194.6,"r0":436,"r1":455},{"a0":196,"a1":199.3,"r0":465,"r1":465},{"a0":188.9,"a1":192.7,"r0":483,"r1":483},{"a0":191,"a1":191,"r0":455,"r1":483},{"a0":186.7,"a1":191.6,"r0":495,"r1":495},{"a0":183.2,"a1":190.2,"r0":502,"r1":502},{"a0":182,"a1":184.2,"r0":509,"r1":509},{"a0":195.2,"a1":197.8,"r0":527,"r1":527},{"a0":198,"a1":198,"r0":465,"r1":527},{"a0":196,"a1":196,"r0":465,"r1":527},{"a0":181.5,"a1":181.5,"r0":509,"r1":605},{"a0":182.5,"a1":182.5,"r0":509,"r1":608},{"a0":183.5,"a1":183.5,"r0":509,"r1":610},{"a0":184.5,"a1":184.5,"r0":509,"r1":611},{"a0":185.5,"a1":185.5,"r0":502,"r1":611},{"a0":186.5,"a1":186.5,"r0":502,"r1":608},{"a0":187.5,"a1":187.5,"r0":502,"r1":596},{"a0":188.5,"a1":188.5,"r0":495,"r1":594},{"a0":189.5,"a1":189.5,"r0":495,"r1":594},{"a0":190.5,"a1":190.5,"r0":495,"r1":590},{"a0":191.5,"a1":191.5,"r0":483,"r1":590},{"a0":192.5,"a1":192.5,"r0":483,"r1":585},{"a0":193.5,"a1":193.5,"r0":455,"r1":581},{"a0":194.5,"a1":194.5,"r0":527,"r1":581},{"a0":195.5,"a1":195.5,"r0":527,"r1":581},{"a0":196.5,"a1":196.5,"r0":527,"r1":578},{"a0":197.5,"a1":197.5,"r0":527,"r1":575},{"a0":199,"a1":199,"r0":465,"r1":571},{"a0":200,"a1":200,"r0":465,"r1":571},
{"a0":228,"a1":228,"r0":410,"r1":465},{"a0":230,"a1":230,"r0":410,"r1":458},{"a0":232,"a1":232,"r0":410,"r1":456},{"a0":226,"a1":226,"r0":375,"r1":465},{"a0":226,"a1":233,"r0":410,"r1":410},{"a0":248.6,"a1":253.8,"r0":335,"r1":335},{"a0":250.7,"a1":250.7,"r0":105,"r1":335},{"a0":245.6,"a1":251.3,"r0":371,"r1":371},{"a0":248.6,"a1":248.6,"r0":335,"r1":371},{"a0":251.3,"a1":251.3,"r0":371,"r1":430},{"a0":244,"a1":247.5,"r0":386,"r1":386},{"a0":245.6,"a1":245.6,"r0":371,"r1":386},{"a0":247.5,"a1":247.5,"r0":386,"r1":440},{"a0":244,"a1":244,"r0":386,"r1":430},{"a0":252,"a1":252,"r0":380,"r1":490},{"a0":253,"a1":253,"r0":335,"r1":425},{"a0":250.5,"a1":250.5,"r0":410,"r1":490},{"a0":249.5,"a1":249.5,"r0":420,"r1":495},{"a0":248.5,"a1":248.5,"r0":420,"r1":490},{"a0":247,"a1":247,"r0":440,"r1":490},{"a0":246,"a1":246,"r0":440,"r1":490},{"a0":245,"a1":245,"r0":430,"r1":485},{"a0":243.5,"a1":243.5,"r0":430,"r1":480},{"a0":242.5,"a1":242.5,"r0":420,"r1":478},{"a0":241.5,"a1":241.5,"r0":420,"r1":478},{"a0":243,"a1":243,"r0":130,"r1":390},
{"a0":255.5,"a1":255.5,"r0":40,"r1":460},{"a0":256.2,"a1":256.2,"r0":60,"r1":345},{"a0":257,"a1":257,"r0":53,"r1":350},{"a0":257.7,"a1":257.7,"r0":60,"r1":350},{"a0":258.4,"a1":258.4,"r0":53,"r1":350},{"a0":259.2,"a1":259.2,"r0":70,"r1":385},{"a0":260,"a1":260,"r0":60,"r1":385},{"a0":260.8,"a1":260.8,"r0":50,"r1":385},{"a0":261.6,"a1":261.6,"r0":50,"r1":470},{"a0":262.4,"a1":262.4,"r0":6,"r1":475},{"a0":263.2,"a1":263.2,"r0":40,"r1":475},{"a0":264,"a1":264,"r0":60,"r1":475},{"a0":264.8,"a1":264.8,"r0":40,"r1":475},{"a0":265.5,"a1":265.5,"r0":50,"r1":395},{"a0":266.2,"a1":266.2,"r0":30,"r1":390},{"a0":267,"a1":267,"r0":40,"r1":390},{"a0":267.7,"a1":267.7,"r0":30,"r1":447},{"a0":268.4,"a1":268.4,"r0":20,"r1":447},{"a0":269,"a1":269,"r0":30,"r1":350},{"a0":269.5,"a1":269.5,"r0":20,"r1":350},{"a0":270,"a1":270,"r0":20,"r1":350},{"a0":270.5,"a1":270.5,"r0":30,"r1":424}]
},
"resolve":{"scale":{"x":"independent","y":"independent","yOffset":"independent","theta":"independent","radius":"independent","color":"independent","fill":"independent","stroke":"independent","size":"independent"},"axis":{"x":"independent","y":"independent"}},
"layer":[
{"data":{"name":"boxes"},"mark":{"type":"rule","strokeWidth":6},"encoding":{"y":{"field":"group","type":"nominal","sort":null,"scale":{"type":"band","domain":["100% complete\n(n=2)","90−99% complete\n(n=154)","80−90% complete\n(n=217)","50−80% complete\n(n=471)"],"range":[98,810],"paddingInner":0,"paddingOuter":0.094},"axis":{"orient":"left","offset":-472,"title":null,"domainColor":"black","domainWidth":4,"tickColor":"black","tickWidth":4,"tickSize":8,"labelFontSize":37,"labelFont":"Liberation Sans","labelColor":"black","labelPadding":12,"labelLineHeight":43,"labelOffset":-14,"labelLimit":600,"labelExpr":"split(datum.label,'\\n')"}},"yOffset":{"field":"dodge","type":"nominal","scale":{"domain":["upper","center","lower"],"paddingInner":0,"paddingOuter":0.5}},"x":{"field":"low","type":"quantitative","scale":{"domain":[250,5826],"range":[472,1572]},"axis":{"orient":"bottom","offset":-1551,"values":[1000,2000,3000,4000,5000,5576],"labelExpr":"datum.value>5000?'(Kb)':format(datum.value,',')","title":"MAG contig length","titleFontSize":45,"titleFont":"Liberation Sans","titleFontWeight":"normal","titleColor":"black","titleX":994,"titleY":62,"titleAlign":"center","labelFontSize":36,"labelFont":"Liberation Sans","labelColor":"black","labelPadding":20,"tickSize":0,"domainColor":"black","domainWidth":5}},"x2":{"field":"high"},"color":{"field":"kingdom","type":"nominal","scale":{"domain":["Archaea","Bacteria"],"range":["#F0131E","#0073B3"]},"legend":null}}},
{"data":{"name":"boxes"},"mark":{"type":"bar","strokeWidth":5,"opacity":1},"encoding":{"y":{"field":"group","type":"nominal","sort":null,"scale":{"type":"band","domain":["100% complete\n(n=2)","90−99% complete\n(n=154)","80−90% complete\n(n=217)","50−80% complete\n(n=471)"],"range":[98,810],"paddingInner":0,"paddingOuter":0.094},"axis":null},"yOffset":{"field":"dodge","type":"nominal","scale":{"domain":["upper","center","lower"],"paddingInner":0,"paddingOuter":0.5}},"x":{"field":"q1","type":"quantitative","scale":{"domain":[250,5826],"range":[472,1572]},"axis":null},"x2":{"field":"q3"},"size":{"field":"span","type":"nominal","scale":{"domain":["paired","solo"],"range":[43,85]},"legend":null},"fill":{"field":"kingdom","type":"nominal","scale":{"domain":["Archaea","Bacteria"],"range":["#FBE3E4","#DCF0F1"]},"legend":null},"stroke":{"field":"kingdom","type":"nominal","scale":{"domain":["Archaea","Bacteria"],"range":["#F0131E","#0073B3"]},"legend":null}}},
{"data":{"name":"boxes"},"mark":{"type":"tick","thickness":9,"opacity":1},"encoding":{"y":{"field":"group","type":"nominal","sort":null,"scale":{"type":"band","domain":["100% complete\n(n=2)","90−99% complete\n(n=154)","80−90% complete\n(n=217)","50−80% complete\n(n=471)"],"range":[98,810],"paddingInner":0,"paddingOuter":0.094},"axis":null},"yOffset":{"field":"dodge","type":"nominal","scale":{"domain":["upper","center","lower"],"paddingInner":0,"paddingOuter":0.5}},"x":{"field":"median","type":"quantitative","scale":{"domain":[250,5826],"range":[472,1572]},"axis":null},"size":{"field":"span","type":"nominal","scale":{"domain":["paired","solo"],"range":[43,85]},"legend":null},"color":{"field":"kingdom","type":"nominal","scale":{"domain":["Archaea","Bacteria"],"range":["#F0131E","#0073B3"]},"legend":null}}},
{"data":{"name":"outliers"},"mark":{"type":"point","filled":true,"size":200,"opacity":1,"color":"#0073B3"},"encoding":{"y":{"field":"group","type":"nominal","sort":null,"scale":{"type":"band","domain":["100% complete\n(n=2)","90−99% complete\n(n=154)","80−90% complete\n(n=217)","50−80% complete\n(n=471)"],"range":[98,810],"paddingInner":0,"paddingOuter":0.094},"axis":null},"yOffset":{"field":"dodge","type":"nominal","scale":{"domain":["upper","center","lower"],"paddingInner":0,"paddingOuter":0.5}},"x":{"field":"kb","type":"quantitative","scale":{"domain":[250,5826],"range":[472,1572]},"axis":null}}},
{"data":{"values":[{"title":"kingdom"}]},"mark":{"type":"text","align":"left","fontSize":43,"font":"Liberation Sans","color":"black"},"encoding":{"text":{"field":"title"},"x":{"datum":1633,"type":"quantitative","scale":{"domain":[0,3957],"range":[0,3957]},"axis":null},"y":{"datum":372,"type":"quantitative","scale":{"domain":[0,2361],"range":[0,2361]},"axis":null}}},
{"data":{"name":"kingdoms"},"mark":{"type":"point","filled":false,"opacity":1,"shape":"M-0.655,-1H0.655V1H-0.655ZM0,-1V1M-0.655,0H-1M0.655,0H1","size":3364,"strokeWidth":5},"encoding":{"x":{"datum":1668,"type":"quantitative","scale":{"domain":[0,3957],"range":[0,3957]},"axis":null},"y":{"field":"kingdom","type":"nominal","scale":{"type":"band","domain":["Archaea","Bacteria"],"range":[416,560]},"axis":null},"color":{"field":"kingdom","type":"nominal","scale":{"domain":["Archaea","Bacteria"],"range":["#F0131E","#0073B3"]},"legend":null}}},
{"data":{"name":"kingdoms"},"mark":{"type":"text","align":"left","fontSize":37,"font":"Liberation Sans","color":"black"},"encoding":{"text":{"field":"kingdom"},"x":{"datum":1726,"type":"quantitative","scale":{"domain":[0,3957],"range":[0,3957]},"axis":null},"y":{"field":"kingdom","type":"nominal","scale":{"type":"band","domain":["Archaea","Bacteria"],"range":[416,560]},"axis":null}}},
{"data":{"name":"edgesB"},"mark":{"type":"rule","strokeWidth":3},"encoding":{"x":{"field":"d","type":"quantitative","scale":{"domain":[0,652],"range":[2190,2840]},"axis":null},"x2":{"field":"d2"},"y":{"field":"p","type":"quantitative","scale":{"domain":[0,676],"range":[204,878]},"axis":null},"y2":{"field":"p2"},"color":{"field":"edge","type":"nominal","scale":{"domain":["stem","tip"],"range":["#B4B4B4","#808080"]},"legend":null}}},
{"data":{"name":"treeB"},"mark":{"type":"point","filled":true,"size":850,"opacity":1},"encoding":{"x":{"field":"d","type":"quantitative","scale":{"domain":[0,652],"range":[2190,2840]},"axis":null},"y":{"field":"p","type":"quantitative","scale":{"domain":[0,676],"range":[204,878]},"axis":null},"color":{"field":"type","type":"nominal","scale":{"domain":["internal","Methanobacteriota","Halobacteriota"],"range":["#858585","#FFB9CA","#0072B0"]},"legend":null}}},
{"data":{"values":[{"kingdom":"Archaea"}]},"mark":{"type":"rect"},"encoding":{"x":{"datum":0,"type":"quantitative","scale":{"domain":[0,1],"range":[2839,2907]},"axis":null},"x2":{"datum":1},"y":{"datum":0,"type":"quantitative","scale":{"domain":[0,1],"range":[204,876]},"axis":null},"y2":{"datum":1},"color":{"field":"kingdom","type":"nominal","scale":{"range":["#B52424"]},"legend":null}}},
{"data":{"values":[{"kingdom":"Archaea"}]},"mark":{"type":"text","angle":270,"fontSize":35,"font":"Liberation Sans","color":"#222222","baseline":"middle"},"encoding":{"text":{"field":"kingdom"},"x":{"datum":0.5,"type":"quantitative","scale":{"domain":[0,1],"range":[2839,2907]},"axis":null},"y":{"datum":0.5,"type":"quantitative","scale":{"domain":[0,1],"range":[204,876]},"axis":null}}},
{"data":{"name":"archaea"},"mark":{"type":"point","filled":true,"size":850,"opacity":1},"encoding":{"y":{"field":"phylum","type":"nominal","sort":null,"scale":{"type":"band","domain":["Methanobacteriota","Halobacteriota"],"range":[204,876],"paddingInner":0,"paddingOuter":0.17},"axis":null},"x":{"datum":27,"type":"quantitative","scale":{"domain":[0,391],"range":[2906,3297]},"axis":null},"color":{"field":"phylum","type":"nominal","scale":{"domain":["Methanobacteriota","Halobacteriota"],"range":["#FFB9CA","#0072B0"]},"legend":null}}},
{"data":{"name":"archaea"},"mark":{"type":"text","align":"left","fontSize":35,"font":"Liberation Sans","color":"black"},"encoding":{"y":{"field":"phylum","type":"nominal","sort":null,"scale":{"type":"band","domain":["Methanobacteriota","Halobacteriota"],"range":[204,876],"paddingInner":0,"paddingOuter":0.17},"axis":null},"x":{"datum":83,"type":"quantitative","scale":{"domain":[0,391],"range":[2906,3297]},"axis":null},"text":{"field":"phylum"}}},
{"data":{"name":"archaea"},"mark":{"type":"bar"},"encoding":{"y":{"field":"phylum","type":"nominal","sort":null,"scale":{"type":"band","domain":["Methanobacteriota","Halobacteriota"],"range":[204,876],"paddingInner":0.098,"paddingOuter":0.15},"axis":null},"x":{"field":"number","type":"quantitative","scale":{"domain":[0,2],"range":[3296,3935]},"axis":null},"color":{"field":"phylum","type":"nominal","scale":{"domain":["Methanobacteriota","Halobacteriota"],"range":["#FFB9CA","#0072B0"]},"legend":null}}},
{"data":{"name":"archaea"},"mark":{"type":"text","fontSize":25,"font":"Liberation Sans","color":"#111111"},"encoding":{"y":{"field":"phylum","type":"nominal","sort":null,"scale":{"type":"band","domain":["Methanobacteriota","Halobacteriota"],"range":[204,876],"paddingInner":0.098,"paddingOuter":0.15},"axis":null},"x":{"field":"number","type":"quantitative","scale":{"domain":[0,2],"range":[3296,3935]},"axis":null},"text":{"field":"number","type":"quantitative"}}},
{"data":{"values":[{"kingdom":"Bacteria"}]},"mark":{"type":"rect"},"encoding":{"x":{"datum":0,"type":"quantitative","scale":{"domain":[0,1],"range":[2190,2256]},"axis":null},"x2":{"datum":1},"y":{"datum":0,"type":"quantitative","scale":{"domain":[0,1],"range":[1044,2267]},"axis":null},"y2":{"datum":1},"color":{"field":"kingdom","type":"nominal","scale":{"range":["#00758F"]},"legend":null}}},
{"data":{"values":[{"kingdom":"Bacteria"}]},"mark":{"type":"text","angle":270,"fontSize":34,"font":"Liberation Sans","color":"#222222","baseline":"middle"},"encoding":{"text":{"field":"kingdom"},"x":{"datum":0.5,"type":"quantitative","scale":{"domain":[0,1],"range":[2190,2256]},"axis":null},"y":{"datum":0.5,"type":"quantitative","scale":{"domain":[0,1],"range":[1044,2267]},"axis":null}}},
{"data":{"name":"bacteria"},"mark":{"type":"bar"},"encoding":{"y":{"field":"phylum","type":"nominal","sort":null,"scale":{"type":"band","range":[1044,2267],"paddingInner":0.1,"paddingOuter":0.15},"axis":{"orient":"left","offset":-2580,"title":null,"domain":false,"ticks":false,"labelFontSize":34,"labelFont":"Liberation Sans","labelColor":"black","labelPadding":38,"labelLimit":600}},"x":{"field":"number","type":"quantitative","scale":{"domain":[0,335],"range":[2580,3513]},"axis":{"orient":"bottom","offset":-89,"labels":false,"ticks":false,"domain":false,"title":"Number","titleFontSize":41,"titleFont":"Liberation Sans","titleFontWeight":"normal","titleColor":"black","titleX":2925,"titleY":43,"titleBaseline":"middle","titleAlign":"center"}},"color":{"field":"phylum","type":"nominal","scale":{"domain":["Verrucomicrobiota","Synergistota","Spirochaetota","Pseudomonadota","Planctomycetota","Patescibacteria","Myxococcota","Fusobacteriota","Fibrobacterota","Eremiobacterota","Elusimicrobiota","Desulfobacterota","Deferribacterota","Cyanobacteriota","Chlamydiota","Campylobacterota","Bacteroidota","Bacillota_C","Bacillota_B","Bacillota_A","Bacillota","Actinomycetota"],"range":["#B52424","#FFBB78","#80D4DF","#D5D685","#C7C7C7","#FFB1D1","#C99F97","#C5B0D5","#FF9896","#00B6C6","#BCBD22","#00A03C","#7F7F7F","#E575B0","#A06A60","#9565AD","#FFD597","#EE2526","#FF7F0E","#7BCD86","#A3C3E1","#0072B0"]},"legend":null}}},
{"data":{"name":"bacteria"},"mark":{"type":"text","fontSize":25,"font":"Liberation Sans","color":"#111111","dy":-3},"encoding":{"y":{"field":"phylum","type":"nominal","sort":null,"scale":{"type":"band","range":[1044,2267],"paddingInner":0.1,"paddingOuter":0.15},"axis":null},"x":{"field":"number","type":"quantitative","scale":{"domain":[0,335],"range":[2580,3513]},"axis":null},"text":{"field":"number","type":"quantitative"}}},
{"data":{"name":"wedges"},"mark":{"type":"arc","x":1268,"y":1664,"outerRadius":658,"strokeWidth":1.5,"aria":false},"encoding":{"theta":{"field":"a0","type":"quantitative","scale":{"domain":[0,360],"range":[0,6.283185]}},"theta2":{"field":"a1"},"radius2":{"field":"r0","type":"quantitative","scale":{"type":"linear","domain":[0,662],"range":[0,658]}},"fill":{"field":"phylum","type":"nominal","scale":{"domain":["Verrucomicrobiota","Synergistota","Spirochaetota","Pseudomonadota","Planctomycetota","Patescibacteria","Myxococcota","Fusobacteriota","Fibrobacterota","Eremiobacterota","Elusimicrobiota","Desulfobacterota","Deferribacterota","Cyanobacteriota","Chlamydiota","Campylobacterota","Bacteroidota","Bacillota_C","Bacillota_B","Bacillota_A","Bacillota","Actinomycetota"],"range":["#B52424","#FFBB78","#80D4DF","#D5D685","#C7C7C7","#FFB1D1","#C99F97","#C5B0D5","#FF9896","#00B6C6","#BCBD22","#00A03C","#7F7F7F","#E575B0","#A06A60","#9565AD","#FFD597","#EE2526","#FF7F0E","#7BCD86","#A3C3E1","#0072B0"]},"legend":null},"stroke":{"field":"phylum","type":"nominal","scale":{"domain":["Verrucomicrobiota","Synergistota","Spirochaetota","Pseudomonadota","Planctomycetota","Patescibacteria","Myxococcota","Fusobacteriota","Fibrobacterota","Eremiobacterota","Elusimicrobiota","Desulfobacterota","Deferribacterota","Cyanobacteriota","Chlamydiota","Campylobacterota","Bacteroidota","Bacillota_C","Bacillota_B","Bacillota_A","Bacillota","Actinomycetota"],"range":["#B52424","#FFBB78","#80D4DF","#D5D685","#C7C7C7","#FFB1D1","#C99F97","#C5B0D5","#FF9896","#00B6C6","#BCBD22","#00A03C","#7F7F7F","#E575B0","#A06A60","#9565AD","#FFD597","#EE2526","#FF7F0E","#7BCD86","#A3C3E1","#0072B0"]},"legend":null}}},
{"data":{"name":"hatch"},"mark":{"type":"arc","x":1268,"y":1664,"fill":"#A0A0A0","aria":false},"encoding":{"theta":{"field":"a0","type":"quantitative","scale":{"domain":[0,360],"range":[0,6.283185]}},"theta2":{"field":"a1"},"radius":{"field":"r1","type":"quantitative","scale":{"type":"linear","domain":[0,662],"range":[0,658]}},"radius2":{"field":"r0"}}},
{"data":{"name":"branches"},"mark":{"type":"arc","x":1268,"y":1664,"filled":false,"stroke":"#404040","strokeWidth":1.8,"aria":false},"encoding":{"theta":{"field":"a0","type":"quantitative","scale":{"domain":[0,360],"range":[0,6.283185]}},"theta2":{"field":"a1"},"radius":{"field":"r1","type":"quantitative","scale":{"type":"linear","domain":[0,662],"range":[0,658]}},"radius2":{"field":"r0"}}},
{"data":{"values":[{"letter":"A"}]},"mark":{"type":"text","fontSize":100,"font":"Liberation Sans","color":"black","baseline":"alphabetic"},"encoding":{"text":{"field":"letter"},"x":{"datum":56,"type":"quantitative","scale":{"domain":[0,3957],"range":[0,3957]},"axis":null},"y":{"datum":96,"type":"quantitative","scale":{"domain":[0,2361],"range":[0,2361]},"axis":null}}},
{"data":{"values":[{"letter":"B"}]},"mark":{"type":"text","fontSize":100,"font":"Liberation Sans","color":"black","baseline":"alphabetic"},"encoding":{"text":{"field":"letter"},"x":{"datum":2190,"type":"quantitative","scale":{"domain":[0,3957],"range":[0,3957]},"axis":null},"y":{"datum":113,"type":"quantitative","scale":{"domain":[0,2361],"range":[0,2361]},"axis":null}}},
{"data":{"values":[{"letter":"C"}]},"mark":{"type":"text","fontSize":100,"font":"Liberation Sans","color":"black","baseline":"alphabetic"},"encoding":{"text":{"field":"letter"},"x":{"datum":388,"type":"quantitative","scale":{"domain":[0,3957],"range":[0,3957]},"axis":null},"y":{"datum":1055,"type":"quantitative","scale":{"domain":[0,2361],"range":[0,2361]},"axis":null}}}
]}
